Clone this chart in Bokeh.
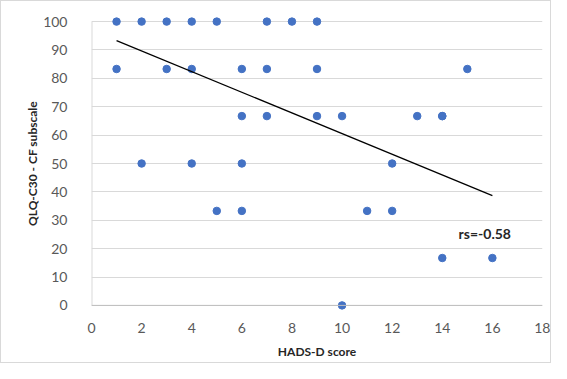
from bokeh.plotting import figure
from bokeh.models import Range1d, FixedTicker, ColumnDataSource, Label, Span
from bokeh.embed import file_html
from bokeh.resources import INLINE

# data
hads_d = [1, 2, 3, 4, 5, 7, 8, 9,
          1, 3, 4, 6, 7, 9, 15,
          6, 7, 9, 10, 13, 14, 14,
          2, 4, 6, 12,
          5, 6, 11, 12,
          14, 16,
          10]
cf_score = [100, 100, 100, 100, 100, 100, 100, 100,
            83.3, 83.3, 83.3, 83.3, 83.3, 83.3, 83.3,
            66.7, 66.7, 66.7, 66.7, 66.7, 66.7, 66.7,
            50, 50, 50, 50,
            33.3, 33.3, 33.3, 33.3,
            16.7, 16.7,
            0]
trend_x = [1, 16]
trend_y = [93.3, 38.7]
x_ticks = list(range(0, 19, 2))
y_ticks = list(range(0, 101, 10))
rs_label = "rs=-0.58"
rs_pos = (14.65, 25.3)

FONT = "Lato"

p = figure(width=551, height=363, x_range=Range1d(0, 18), y_range=Range1d(-2.5, 102.5),
           output_backend="svg", toolbar_location=None,
           min_border_left=90, min_border_right=10, min_border_top=13, min_border_bottom=52)
p.outline_line_color = None
p.background_fill_color = "white"
p.styles = {"border": "1px solid #d9d9d9", "box-sizing": "border-box"}

p.xgrid.grid_line_color = None
p.ygrid.grid_line_color = "#d9d9d9"
p.ygrid.grid_line_width = 1

p.xaxis.ticker = FixedTicker(ticks=x_ticks)
p.yaxis.ticker = FixedTicker(ticks=y_ticks)
for ax in (p.xaxis, p.yaxis):
    ax.major_tick_line_color = None
    ax.minor_tick_line_color = None
    ax.axis_line_color = None
    ax.major_label_text_font = FONT
    ax.major_label_text_font_size = "14px"
    ax.major_label_text_color = "#595959"
    ax.axis_label_text_font = FONT
    ax.axis_label_text_font_style = "bold"
    ax.axis_label_text_font_size = "12px"
    ax.axis_label_text_color = "#262626"
p.xaxis.major_label_standoff = 4
p.yaxis.major_label_standoff = 18
p.xaxis.axis_label = "HADS-D score"
p.yaxis.axis_label = "QLQ-C30 - CF subscale"
p.xaxis.axis_label_standoff = 8
p.yaxis.axis_label_standoff = 0

# axis lines drawn at the data origin
p.add_layout(Span(location=0, dimension="width", line_color="#bfbfbf", line_width=1))
p.segment(x0=[0], y0=[0], x1=[0], y1=[100], line_color="#d9d9d9", line_width=2)

src = ColumnDataSource(dict(x=hads_d, y=cf_score))
p.scatter("x", "y", source=src, size=7.5, fill_color="#4472C4", line_color="#4472C4")
p.line(trend_x, trend_y, line_color="black", line_width=1.3)

p.add_layout(Label(x=rs_pos[0], y=rs_pos[1], text=rs_label, text_font=FONT,
                   text_font_style="bold", text_font_size="14px", text_color="#262626",
                   text_baseline="middle", text_align="left"))

open("out.html", "w").write(file_html(p, INLINE))
